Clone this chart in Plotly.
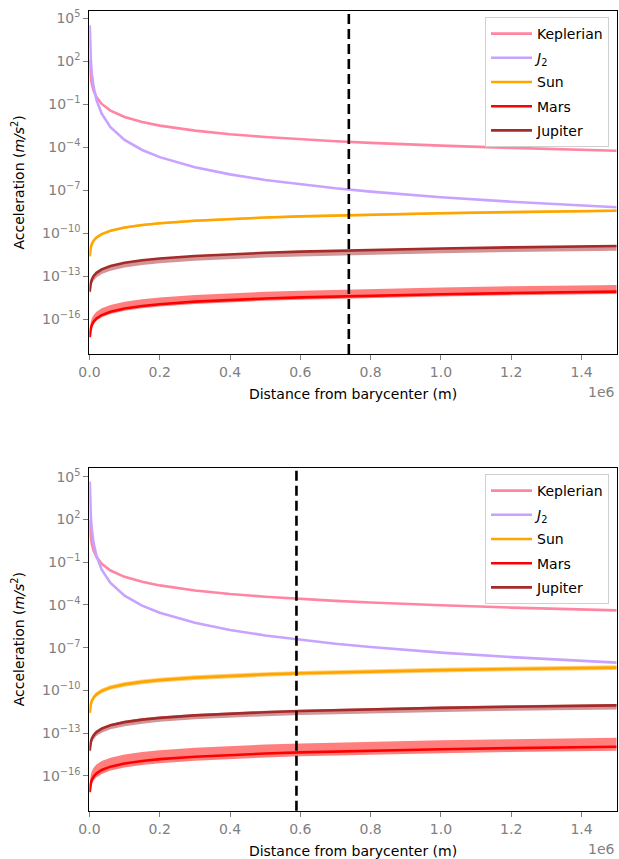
import plotly.graph_objects as go

# ---------------- data ----------------
distance_m = [1e3, 2e3, 4e3, 7e3, 1.2e4, 2e4, 3.5e4, 6e4, 1e5, 1.5e5, 2e5, 3e5, 4e5,
              5e5, 6e5, 7e5, 8e5, 9e5, 1e6, 1.2e6, 1.35e6, 1.5e6]

x_tick_vals = [0, 2e5, 4e5, 6e5, 8e5, 1e6, 1.2e6, 1.4e6]
x_tick_text = ["0.0", "0.2", "0.4", "0.6", "0.8", "1.0", "1.2", "1.4"]
y_tick_vals = [1e5, 1e2, 1e-1, 1e-4, 1e-7, 1e-10, 1e-13, 1e-16]
y_tick_text = ["10<sup>5</sup>", "10<sup>2</sup>", "10<sup>\u22121</sup>", "10<sup>\u22124</sup>",
               "10<sup>\u22127</sup>", "10<sup>\u221210</sup>", "10<sup>\u221213</sup>", "10<sup>\u221216</sup>"]

series_names = ["Keplerian", "<i>J</i><sub>2</sub>", "Sun", "Mars", "Jupiter"]

# ---- top panel ----
top_keplerian = [129.4, 32.35, 8.09, 2.641, 0.8986, 0.3235, 0.1056, 0.03594, 0.01294, 5.751e-3,
                 3.235e-3, 1.438e-3, 8.09e-4, 5.18e-4, 3.59e-4, 2.64e-4, 2.02e-4, 1.60e-4, 1.29e-4,
                 8.99e-5, 7.10e-5, 5.75e-5]
top_j2 = [3.27e4, 2.044e3, 127.7, 13.62, 1.577, 0.2044, 0.02179, 2.523e-3, 3.27e-4, 6.46e-5,
          2.044e-5, 4.04e-6, 1.277e-6, 5.23e-7, 2.523e-7, 1.362e-7, 7.98e-8, 4.98e-8, 3.27e-8,
          1.577e-8, 9.85e-9, 6.46e-9]
top_sun = [2.48e-12, 4.96e-12, 9.92e-12, 1.74e-11, 2.98e-11, 4.96e-11, 8.68e-11, 1.49e-10, 2.48e-10,
           3.72e-10, 4.96e-10, 7.44e-10, 9.92e-10, 1.24e-9, 1.49e-9, 1.74e-9, 1.98e-9, 2.23e-9,
           2.48e-9, 2.98e-9, 3.35e-9, 3.72e-9]
top_sun_hi = [2.97e-12, 5.94e-12, 1.19e-11, 2.08e-11, 3.56e-11, 5.94e-11, 1.04e-10, 1.78e-10, 2.97e-10,
              4.46e-10, 5.94e-10, 8.91e-10, 1.19e-9, 1.49e-9, 1.78e-9, 2.08e-9, 2.38e-9, 2.67e-9,
              2.97e-9, 3.56e-9, 4.01e-9, 4.46e-9]
top_sun_lo = [2.06e-12, 4.12e-12, 8.24e-12, 1.44e-11, 2.47e-11, 4.12e-11, 7.21e-11, 1.24e-10, 2.06e-10,
              3.09e-10, 4.12e-10, 6.18e-10, 8.24e-10, 1.03e-9, 1.24e-9, 1.44e-9, 1.65e-9, 1.85e-9,
              2.06e-9, 2.47e-9, 2.78e-9, 3.09e-9]
top_jupiter = [8.59e-15, 1.72e-14, 3.44e-14, 6.01e-14, 1.03e-13, 1.72e-13, 3.01e-13, 5.15e-13, 8.59e-13,
               1.29e-12, 1.72e-12, 2.58e-12, 3.44e-12, 4.30e-12, 5.15e-12, 6.01e-12, 6.87e-12,
               7.73e-12, 8.59e-12, 1.03e-11, 1.16e-11, 1.29e-11]
top_jupiter_hi = [9.42e-15, 1.88e-14, 3.77e-14, 6.59e-14, 1.13e-13, 1.88e-13, 3.30e-13, 5.65e-13,
                  9.42e-13, 1.41e-12, 1.88e-12, 2.83e-12, 3.77e-12, 4.71e-12, 5.65e-12, 6.59e-12,
                  7.54e-12, 8.48e-12, 9.42e-12, 1.13e-11, 1.27e-11, 1.41e-11]
top_jupiter_lo = [4.01e-15, 8.02e-15, 1.60e-14, 2.81e-14, 4.81e-14, 8.02e-14, 1.40e-13, 2.41e-13,
                  4.01e-13, 6.02e-13, 8.02e-13, 1.20e-12, 1.60e-12, 2.01e-12, 2.41e-12, 2.81e-12,
                  3.21e-12, 3.61e-12, 4.01e-12, 4.81e-12, 5.41e-12, 6.02e-12]
top_mars = [5.55e-18, 1.11e-17, 2.22e-17, 3.89e-17, 6.66e-17, 1.11e-16, 1.94e-16, 3.33e-16, 5.55e-16,
            8.33e-16, 1.11e-15, 1.67e-15, 2.22e-15, 2.78e-15, 3.33e-15, 3.89e-15, 4.44e-15,
            5.00e-15, 5.55e-15, 6.66e-15, 7.49e-15, 8.33e-15]
top_mars_hi = [1.64e-17, 3.28e-17, 6.56e-17, 1.15e-16, 1.97e-16, 3.28e-16, 5.74e-16, 9.84e-16,
               1.64e-15, 2.46e-15, 3.28e-15, 4.92e-15, 6.56e-15, 8.20e-15, 9.84e-15, 1.15e-14,
               1.31e-14, 1.48e-14, 1.64e-14, 1.97e-14, 2.21e-14, 2.46e-14]
top_mars_lo = [3.84e-18, 7.68e-18, 1.54e-17, 2.69e-17, 4.61e-17, 7.68e-17, 1.34e-16, 2.30e-16,
               3.84e-16, 5.76e-16, 7.68e-16, 1.15e-15, 1.54e-15, 1.92e-15, 2.30e-15, 2.69e-15,
               3.07e-15, 3.46e-15, 3.84e-15, 4.61e-15, 5.18e-15, 5.76e-15]
top_marker_distance = 7.38e5

# ---- bottom panel ----
bot_keplerian = [93.8, 23.5, 5.86, 1.914, 0.651, 0.2345, 0.0766, 0.02606, 9.38e-3, 4.17e-3,
                 2.345e-3, 1.042e-3, 5.86e-4, 3.75e-4, 2.61e-4, 1.91e-4, 1.47e-4, 1.16e-4, 9.38e-5,
                 6.51e-5, 5.15e-5, 4.17e-5]
bot_j2 = [4.51e4, 2.82e3, 176.2, 18.79, 2.175, 0.2819, 0.03006, 3.481e-3, 4.51e-4, 8.91e-5,
          2.82e-5, 5.57e-6, 1.762e-6, 7.22e-7, 3.48e-7, 1.879e-7, 1.101e-7, 6.88e-8, 4.51e-8,
          2.175e-8, 1.358e-8, 8.91e-9]
bot_sun = [2.65e-12, 5.30e-12, 1.06e-11, 1.86e-11, 3.18e-11, 5.30e-11, 9.28e-11, 1.59e-10, 2.65e-10,
           3.98e-10, 5.30e-10, 7.95e-10, 1.06e-9, 1.33e-9, 1.59e-9, 1.86e-9, 2.12e-9, 2.39e-9,
           2.65e-9, 3.18e-9, 3.58e-9, 3.98e-9]
bot_sun_hi = [3.84e-12, 7.68e-12, 1.54e-11, 2.69e-11, 4.61e-11, 7.68e-11, 1.34e-10, 2.30e-10, 3.84e-10,
              5.76e-10, 7.68e-10, 1.15e-9, 1.54e-9, 1.92e-9, 2.30e-9, 2.69e-9, 3.07e-9, 3.46e-9,
              3.84e-9, 4.61e-9, 5.18e-9, 5.76e-9]
bot_sun_lo = [1.83e-12, 3.66e-12, 7.32e-12, 1.28e-11, 2.20e-11, 3.66e-11, 6.41e-11, 1.10e-10, 1.83e-10,
              2.75e-10, 3.66e-10, 5.49e-10, 7.32e-10, 9.15e-10, 1.10e-9, 1.28e-9, 1.46e-9, 1.65e-9,
              1.83e-9, 2.20e-9, 2.47e-9, 2.75e-9]
bot_jupiter = [5.94e-15, 1.19e-14, 2.38e-14, 4.16e-14, 7.13e-14, 1.19e-13, 2.08e-13, 3.56e-13, 5.94e-13,
               8.91e-13, 1.19e-12, 1.78e-12, 2.38e-12, 2.97e-12, 3.56e-12, 4.16e-12, 4.75e-12,
               5.35e-12, 5.94e-12, 7.13e-12, 8.02e-12, 8.91e-12]
bot_jupiter_hi = [7.48e-15, 1.50e-14, 2.99e-14, 5.24e-14, 8.98e-14, 1.50e-13, 2.62e-13, 4.49e-13,
                  7.48e-13, 1.12e-12, 1.50e-12, 2.24e-12, 2.99e-12, 3.74e-12, 4.49e-12, 5.24e-12,
                  5.98e-12, 6.73e-12, 7.48e-12, 8.98e-12, 1.01e-11, 1.12e-11]
bot_jupiter_lo = [3.12e-15, 6.24e-15, 1.25e-14, 2.18e-14, 3.74e-14, 6.24e-14, 1.09e-13, 1.87e-13,
                  3.12e-13, 4.68e-13, 6.24e-13, 9.36e-13, 1.25e-12, 1.56e-12, 1.87e-12, 2.18e-12,
                  2.50e-12, 2.81e-12, 3.12e-12, 3.74e-12, 4.21e-12, 4.68e-12]
bot_mars = [7.48e-18, 1.50e-17, 2.99e-17, 5.24e-17, 8.98e-17, 1.50e-16, 2.62e-16, 4.49e-16, 7.48e-16,
            1.12e-15, 1.50e-15, 2.24e-15, 2.99e-15, 3.74e-15, 4.49e-15, 5.24e-15, 5.98e-15,
            6.73e-15, 7.48e-15, 8.98e-15, 1.01e-14, 1.12e-14]
bot_mars_hi = [3.17e-17, 6.34e-17, 1.27e-16, 2.22e-16, 3.80e-16, 6.34e-16, 1.11e-15, 1.90e-15,
               3.17e-15, 4.76e-15, 6.34e-15, 9.51e-15, 1.27e-14, 1.59e-14, 1.90e-14, 2.22e-14,
               2.54e-14, 2.85e-14, 3.17e-14, 3.80e-14, 4.28e-14, 4.76e-14]
bot_mars_lo = [3.93e-18, 7.86e-18, 1.57e-17, 2.75e-17, 4.72e-17, 7.86e-17, 1.38e-16, 2.36e-16,
               3.93e-16, 5.90e-16, 7.86e-16, 1.18e-15, 1.57e-15, 1.97e-15, 2.36e-15, 2.75e-15,
               3.14e-15, 3.54e-15, 3.93e-15, 4.72e-15, 5.31e-15, 5.90e-15]
bot_marker_distance = 5.89e5

# ---------------- styles ----------------
C_KEP = "#ff85a2"
C_J2 = "#c8a2ff"
C_SUN = "#ffa500"
C_MARS = "#ff0000"
C_JUP = "#a52a2a"
BAND = {C_SUN: "rgba(255,165,0,0.5)", C_MARS: "rgba(255,0,0,0.5)", C_JUP: "rgba(165,42,42,0.5)"}
FONT = "DejaVu Sans, Verdana, sans-serif"
LW = 2.6

fig = go.Figure()


def add_panel(idx, kep, j2, sun, sun_lo, sun_hi, mars, mars_lo, mars_hi, jup, jup_lo, jup_hi):
    xa = "x" if idx == 1 else "x2"
    ya = "y" if idx == 1 else "y2"
    leg = "legend" if idx == 1 else "legend2"
    entries = [
        (series_names[0], kep, None, None, C_KEP),
        (series_names[1], j2, None, None, C_J2),
        (series_names[2], sun, sun_lo, sun_hi, C_SUN),
        (series_names[3], mars, mars_lo, mars_hi, C_MARS),
        (series_names[4], jup, jup_lo, jup_hi, C_JUP),
    ]
    for k, (name, vals, lo, hi, col) in enumerate(entries):
        grp = f"g{idx}_{k}"
        if lo is not None:
            fig.add_trace(go.Scatter(x=distance_m, y=lo, xaxis=xa, yaxis=ya, mode="lines",
                                     line=dict(width=0, color=col), showlegend=False,
                                     legendgroup=grp, legend=leg, hoverinfo="skip"))
            fig.add_trace(go.Scatter(x=distance_m, y=hi, xaxis=xa, yaxis=ya, mode="lines",
                                     line=dict(width=0, color=col), fill="tonexty",
                                     fillcolor=BAND[col], showlegend=False,
                                     legendgroup=grp, legend=leg, hoverinfo="skip"))
        fig.add_trace(go.Scatter(x=distance_m, y=vals, xaxis=xa, yaxis=ya, mode="lines",
                                 name=name, line=dict(width=LW, color=col),
                                 legendgroup=grp, legend=leg))


add_panel(1, top_keplerian, top_j2, top_sun, top_sun_lo, top_sun_hi, top_mars, top_mars_lo,
          top_mars_hi, top_jupiter, top_jupiter_lo, top_jupiter_hi)
add_panel(2, bot_keplerian, bot_j2, bot_sun, bot_sun_lo, bot_sun_hi, bot_mars, bot_mars_lo,
          bot_mars_hi, bot_jupiter, bot_jupiter_lo, bot_jupiter_hi)

W, H = 619, 859


def px_x(p):
    return p / W


def px_y(p):
    return 1 - p / H


xdom = [px_x(89.4), px_x(616.7)]

common_x = dict(range=[0, 1.5e6], tickvals=x_tick_vals, ticktext=x_tick_text, ticks="outside",
                ticklen=5, tickwidth=1, tickcolor="#808080",
                tickfont=dict(family=FONT, size=14, color="#808080"),
                showline=True, mirror=True, linecolor="black", linewidth=1.2,
                showgrid=False, zeroline=False, automargin=False,
                title=dict(text="Distance from barycenter (m)",
                           font=dict(family=FONT, size=14, color="black"), standoff=10))
common_y = dict(type="log", tickvals=y_tick_vals, ticktext=y_tick_text, ticks="outside",
                ticklen=5, tickwidth=1, tickcolor="#808080",
                tickfont=dict(family=FONT, size=14, color="#808080"),
                showline=True, mirror=True, linecolor="black", linewidth=1.2,
                showgrid=False, zeroline=False, automargin=False,
                title=dict(text="Acceleration (<i>m/s</i><sup>2</sup>)",
                           font=dict(family=FONT, size=14, color="black"), standoff=14))

legend_style = dict(xanchor="right", yanchor="top", bgcolor="rgba(255,255,255,0.8)",
                    bordercolor="#d0d0d0", borderwidth=1,
                    font=dict(family=FONT, size=14, color="black"), tracegroupgap=3,
                    traceorder="grouped", itemwidth=41)

fig.update_layout(
    width=W, height=H, autosize=False,
    margin=dict(l=0, r=0, t=0, b=0),
    paper_bgcolor="white", plot_bgcolor="white",
    font=dict(family=FONT, size=14, color="black"),
    xaxis=dict(domain=xdom, anchor="y", **common_x),
    yaxis=dict(domain=[px_y(354), px_y(10.7)], anchor="x", range=[-18.43, 5.53], **common_y),
    xaxis2=dict(domain=xdom, anchor="y2", **common_x),
    yaxis2=dict(domain=[px_y(810.7), px_y(467.7)], anchor="x2", range=[-18.44, 5.63], **common_y),
    legend=dict(x=px_x(609), y=px_y(17), **legend_style),
    legend2=dict(x=px_x(609), y=px_y(474), **legend_style),
    shapes=[
        dict(type="line", xref="x", yref="y domain", x0=top_marker_distance, x1=top_marker_distance,
             y0=0, y1=1, line=dict(color="black", width=2.6, dash="10px,5px"), layer="above"),
        dict(type="line", xref="x2", yref="y2 domain", x0=bot_marker_distance, x1=bot_marker_distance,
             y0=0, y1=1, line=dict(color="black", width=2.6, dash="10px,5px"), layer="above"),
    ],
    annotations=[
        dict(text="1e6", xref="paper", yref="paper", x=px_x(616.7), y=px_y(392), xanchor="right",
             yanchor="middle", showarrow=False, font=dict(family=FONT, size=14, color="#808080")),
        dict(text="1e6", xref="paper", yref="paper", x=px_x(616.7), y=px_y(849), xanchor="right",
             yanchor="middle", showarrow=False, font=dict(family=FONT, size=14, color="#808080")),
    ],
)

# remove the browser's default 8px page margin so the figure fills the window exactly
fig.write_html("out.html", config={"displayModeBar": False},
               post_script="document.body.style.margin='0';")
